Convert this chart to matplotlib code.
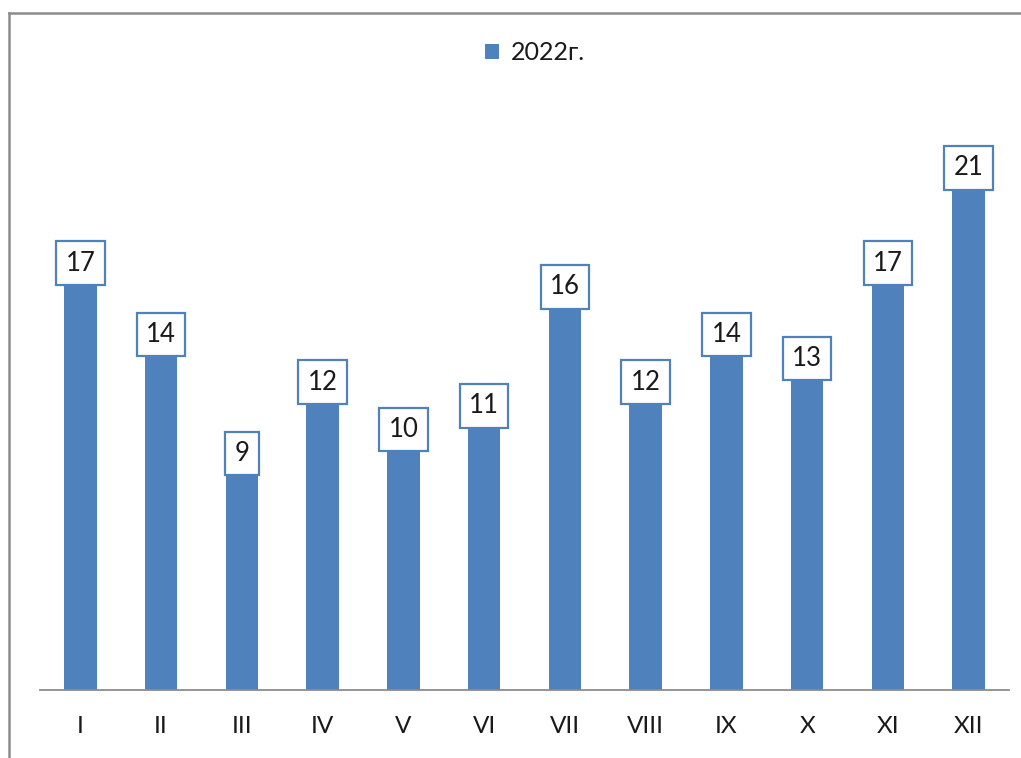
import matplotlib
matplotlib.use("Agg")
import matplotlib.pyplot as plt
from matplotlib.lines import Line2D

months = ["I", "II", "III", "IV", "V", "VI", "VII", "VIII", "IX", "X", "XI", "XII"]
values = [17, 14, 9, 12, 10, 11, 16, 12, 14, 13, 17, 21]
series_name = "2022г."

BLUE = "#4F81BD"
GRAY = "#8C8C8C"

plt.rcParams['font.family'] = ['Lato', 'DejaVu Sans']

fig = plt.figure(figsize=(10.21, 7.58), dpi=100)
W, H = 1021, 758
ax = fig.add_axes([40 / W, 68 / H, 969 / W, 600 / H])

x = list(range(len(months)))
bars = ax.bar(x, values, width=0.4, color=BLUE, label=series_name, zorder=2)

ax.set_xlim(-0.5, len(months) - 0.5)
ax.set_ylim(0, 25.2)
ax.set_xticks(x)
ax.set_xticklabels(months, fontsize=17.5, color="#1a1a1a")
ax.tick_params(axis='x', length=0, pad=19)
ax.set_yticks([])
for s in ["top", "right", "left"]:
    ax.spines[s].set_visible(False)
ax.spines["bottom"].set_color(GRAY)
ax.spines["bottom"].set_linewidth(1.3)

for xi, v in zip(x, values):
    ax.annotate(str(v), xy=(xi, v), xytext=(0, 7), textcoords="offset points",
                ha="center", va="bottom", fontsize=18.5, color="#1a1a1a", zorder=3,
                bbox=dict(boxstyle="square,pad=0.36", fc="white", ec=BLUE, lw=1.6))

leg = ax.legend(loc="center", bbox_to_anchor=(535 / W, 1 - 53 / H),
                bbox_transform=fig.transFigure, frameon=False, fontsize=18,
                handlelength=0.55, handleheight=0.55, handletextpad=0.45)
for t in leg.get_texts():
    t.set_color("#1a1a1a")

# outer frame (left and top edges visible)
fig.add_artist(Line2D([9 / W, 9 / W], [0, 1 - 13 / H], transform=fig.transFigure,
                      color=GRAY, lw=1.8))
fig.add_artist(Line2D([9 / W, 1], [1 - 13 / H, 1 - 13 / H], transform=fig.transFigure,
                      color=GRAY, lw=1.8))

fig.savefig("out.png", dpi=100)
